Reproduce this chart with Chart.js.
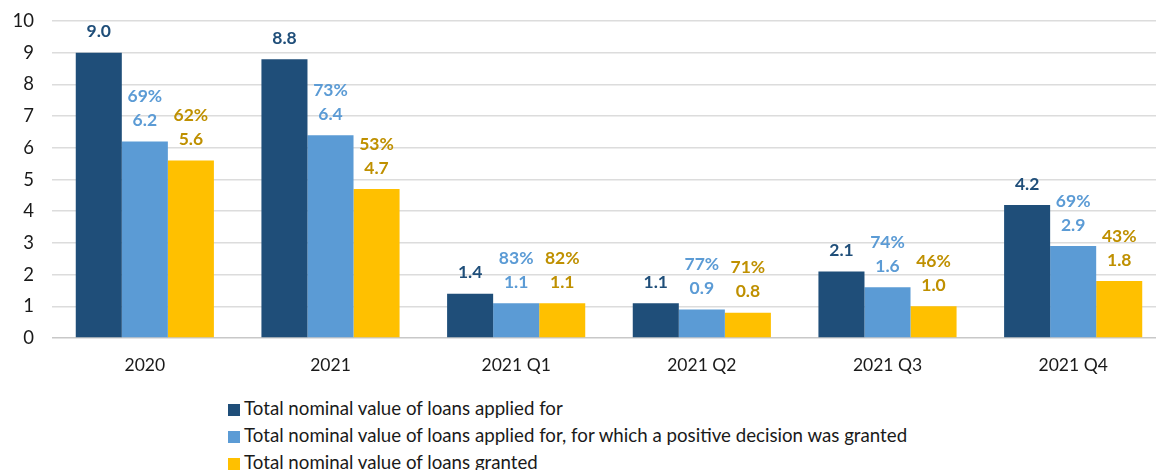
<!DOCTYPE html>
<html>
<head>
<meta charset="utf-8">
<script src="https://cdn.jsdelivr.net/npm/chart.js@4/dist/chart.umd.min.js"></script>
<style>
body { margin:0; background:#fff; overflow:hidden; width:1156px; height:470px; position:relative; }
#wrap { position:absolute; left:0; top:-8px; width:1166px; height:393px; }
#legend { position:absolute; left:228px; top:395px; font-family:Lato, sans-serif; font-size:18.7px; color:#1a1a1a; }
#legend div { height:27px; line-height:27px; white-space:nowrap; }
#legend span { display:inline-block; width:12px; height:12px; margin-right:4px; vertical-align:-1px; }
</style>
</head>
<body>
<div id="wrap"><canvas class="loans"></canvas></div>
<div id="legend"></div>
<script>
var labels = ['2020', '2021', '2021 Q1', '2021 Q2', '2021 Q3', '2021 Q4'];
var applied = [9.0, 8.8, 1.4, 1.1, 2.1, 4.2];
var positive = [6.2, 6.4, 1.1, 0.9, 1.6, 2.9];
var granted = [5.6, 4.7, 1.1, 0.8, 1.0, 1.8];
var positivePct = [69, 73, 83, 77, 74, 69];
var grantedPct = [62, 53, 82, 71, 46, 43];
var names = [
	'Total nominal value of loans applied for',
	'Total nominal value of loans applied for, for which a positive decision was granted',
	'Total nominal value of loans granted'
];
var colors = ['#1F4E79', '#5B9BD5', '#FFC000'];
var textColors = ['#1F4E79', '#5B9BD5', '#BF9000'];
var pcts = [null, positivePct, grantedPct];

var font = 'Lato, sans-serif';

// value and percentage labels above the bars
var barLabels = {
	id: 'barLabels',
	afterDatasetsDraw: function(chart) {
		var ctx = chart.ctx;
		ctx.save();
		ctx.font = 'bold 17.5px ' + font;
		ctx.textAlign = 'center';
		ctx.textBaseline = 'middle';
		chart.data.datasets.forEach(function(ds, i) {
			var meta = chart.getDatasetMeta(i);
			ctx.fillStyle = textColors[i];
			meta.data.forEach(function(bar, j) {
				ctx.fillText(ds.data[j].toFixed(1), bar.x, bar.y - 21);
				if (pcts[i]) ctx.fillText(pcts[i][j] + '%', bar.x, bar.y - 45);
			});
		});
		ctx.restore();
	}
};

var chart = new Chart(document.querySelector('.loans'), {
	type: 'bar',
	data: {
		labels: labels,
		datasets: [
			{ label: names[0], data: applied, backgroundColor: colors[0] },
			{ label: names[1], data: positive, backgroundColor: colors[1] },
			{ label: names[2], data: granted, backgroundColor: colors[2] }
		]
	},
	options: {
		animation: false,
		responsive: true,
		maintainAspectRatio: false,
		layout: { padding: { top: 6, right: 0, left: 0, bottom: 0 } },
		datasets: { bar: { categoryPercentage: 0.744, barPercentage: 1.0 } },
		plugins: { legend: { display: false }, tooltip: { enabled: false } },
		scales: {
			x: {
				grid: { display: false },
				border: { display: false },
				ticks: { color: '#1a1a1a', font: { family: font, size: 17.5 }, padding: 9 }
			},
			y: {
				min: 0, max: 10,
				afterFit: function(s) { s.width = 52; },
				grid: {
					drawTicks: false,
					color: function(c) { return c.tick.value === 0 ? '#C8C8C8' : '#DCDCDC'; },
					lineWidth: 1.5
				},
				border: { display: false },
				ticks: { stepSize: 1, color: '#1a1a1a', font: { family: font, size: 18.5 }, padding: 18 }
			}
		}
	},
	plugins: [barLabels]
});

var legend = document.getElementById('legend');
names.forEach(function(n, i) {
	var row = document.createElement('div');
	row.innerHTML = '<span style="background:' + colors[i] + '"></span>' + n;
	legend.appendChild(row);
});
</script>
</body>
</html>
